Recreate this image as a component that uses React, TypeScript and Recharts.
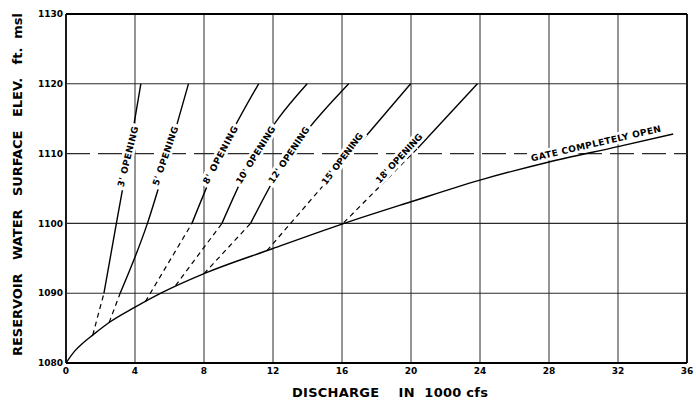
import React from 'react';
import { ComposedChart, Line, XAxis, YAxis, ReferenceLine } from 'recharts';

// axis ticks: discharge (1000 cfs) and elevation (ft msl)
const dischargeTicks = [0, 4, 8, 12, 16, 20, 24, 28, 32, 36];
const elevationTicks = [1080, 1090, 1100, 1110, 1120, 1130];

type Pt = [number, number]; // [discharge, elevation]

// free-flow rating, gate completely open
const gateOpen: Pt[] = [
  [0, 1080], [0.5, 1081.7], [1, 1082.9], [1.55, 1084], [2.5, 1085.8], [4, 1088],
  [5.5, 1090], [8, 1092.8], [12, 1096.4], [16, 1099.9], [20, 1103.1],
  [24, 1106.2], [28, 1108.8], [32, 1111], [35.2, 1112.8],
];

// partial openings: dashed transition leg off the free-flow curve, then the solid rating
const opening3Dashed: Pt[] = [[1.55, 1084], [2.2, 1090]];
const opening3Solid: Pt[] = [[2.2, 1090], [2.92, 1100], [3.65, 1110], [4.34, 1120]];
const opening5Dashed: Pt[] = [[2.5, 1085.8], [3.14, 1090]];
const opening5Solid: Pt[] = [[3.14, 1090], [4.72, 1100], [5.95, 1110], [7.1, 1120]];
const opening8Dashed: Pt[] = [[4.6, 1088.8], [7.3, 1100]];
const opening8Solid: Pt[] = [[7.3, 1100], [9.0, 1110], [11.17, 1120]];
const opening10Dashed: Pt[] = [[6.35, 1091.1], [9.04, 1100]];
const opening10Solid: Pt[] = [[9.04, 1100], [10.95, 1110], [12.3, 1115], [13.98, 1120]];
const opening12Dashed: Pt[] = [[8.0, 1092.8], [10.7, 1100]];
const opening12Solid: Pt[] = [[10.7, 1100], [12.95, 1110], [14.17, 1113.9], [16.39, 1120]];
const opening15Dashed: Pt[] = [[11.65, 1096.1], [16.8, 1110.8]];
const opening15Solid: Pt[] = [[16.8, 1110.8], [19.98, 1120]];
const opening18Dashed: Pt[] = [[16.1, 1100.1], [20.4, 1110.8]];
const opening18Solid: Pt[] = [[20.4, 1110.8], [23.85, 1120]];

// curve captions and where they sit (discharge, elevation)
const captionTexts = ["3' OPENING", "5' OPENING", "8' OPENING", "10' OPENING", "12' OPENING", "15' OPENING", "18' OPENING", 'GATE COMPLETELY OPEN'];
const captionQ = [3.58, 5.75, 8.94, 10.98, 12.91, 16.01, 19.3, 30.72];
const captionElev = [1109.56, 1109.66, 1109.8, 1109.8, 1109.8, 1109.27, 1109.33, 1111.48];

// caption rotation and fitted length, px
const captionStyle = [
  { angle: -76, len: 62 },
  { angle: -71, len: 62 },
  { angle: -62, len: 64 },
  { angle: -58, len: 66 },
  { angle: -56, len: 66 },
  { angle: -53, len: 62 },
  { angle: -47, len: 64 },
  { angle: -13, len: 133 },
];

const dashedLegs = [opening3Dashed, opening5Dashed, opening8Dashed, opening10Dashed, opening12Dashed, opening15Dashed, opening18Dashed];
const solidLegs = [opening3Solid, opening5Solid, opening8Solid, opening10Solid, opening12Solid, opening15Solid, opening18Solid];

const rows = (pts: Pt[]) => pts.map(([q, elev]) => ({ q, elev }));
const captionRows = captionTexts.map((text, i) => ({ q: captionQ[i], elev: captionElev[i], text }));

const FONT = '"DejaVu Sans", sans-serif';

// caption laid along its curve, on a white patch that breaks the lines under it
const Caption = (props: any) => {
  const i = props.index;
  if (i == null || !captionStyle[i]) return null;
  const cx = props.viewBox?.x ?? props.x;
  const cy = props.viewBox?.y ?? props.y;
  if (cx == null || cy == null) return null;
  const { angle, len } = captionStyle[i];
  return (
    <g transform={`translate(${cx},${cy}) rotate(${angle})`}>
      <rect x={-len / 2 - 3} y={-6} width={len + 6} height={12} fill="#fff" />
      <text
        x={-len / 2}
        y={0}
        dy="0.36em"
        fontSize={9}
        fontWeight="bold"
        fontFamily={FONT}
        fill="#000"
        textLength={len}
        lengthAdjust="spacing"
      >
        {captionTexts[i]}
      </text>
    </g>
  );
};

const YTitle = (props: any) => {
  const vb = props.viewBox || { x: 6, y: 14, width: 60, height: 349 };
  const cx = vb.x + 11;
  const cy = vb.y + vb.height / 2 - 4;
  return (
    <text
      x={cx}
      y={cy}
      transform={`rotate(-90, ${cx}, ${cy})`}
      textAnchor="middle"
      dy="0.36em"
      fontSize={13}
      fontWeight="bold"
      fontFamily={FONT}
      fill="#000"
      textLength={343}
      lengthAdjust="spacing"
      style={{ whiteSpace: 'pre' }}
    >
      {'RESERVOIR   WATER   SURFACE   ELEV.   ft.  msl'}
    </text>
  );
};

const XTitle = (props: any) => {
  const vb = props.viewBox || { x: 66, y: 363, width: 621, height: 20 };
  return (
    <text
      x={vb.x + 226}
      y={vb.y + 33.5}
      fontSize={13}
      fontWeight="bold"
      fontFamily={FONT}
      fill="#000"
      textLength={196}
      lengthAdjust="spacing"
      style={{ whiteSpace: 'pre' }}
    >
      {'DISCHARGE    IN  1000 cfs'}
    </text>
  );
};

const tickStyle = { fontSize: 9, fontWeight: 'bold', fill: '#000', fontFamily: FONT };

export default function App() {
  return (
    <div style={{ position: 'absolute', left: 0, top: 0, width: 696, height: 400, background: '#fff' }}>
      <ComposedChart width={696} height={400} margin={{ top: 14, right: 9, bottom: 17, left: 6 }}>
        <XAxis
          type="number"
          dataKey="q"
          domain={[0, 36]}
          ticks={dischargeTicks}
          allowDataOverflow
          axisLine={false}
          tickLine={false}
          tickSize={0}
          tickMargin={5}
          height={20}
          tick={tickStyle}
          label={{ content: XTitle }}
        />
        <YAxis
          type="number"
          dataKey="elev"
          domain={[1080, 1130]}
          ticks={elevationTicks}
          allowDataOverflow
          axisLine={false}
          tickLine={false}
          tickSize={0}
          tickMargin={3}
          width={60}
          tick={tickStyle}
          label={{ content: YTitle }}
        />

        {/* grid: vertical every 4, horizontal every 10, heavier frame */}
        {dischargeTicks.map((v) => {
          const edge = v === 0 || v === 36;
          return (
            <ReferenceLine key={`vx${v}`} x={v} zIndex={-100} stroke={edge ? '#000' : '#2a2a2a'} strokeWidth={edge ? 1.8 : 1} />
          );
        })}
        {elevationTicks.map((v) => {
          const edge = v === 1080 || v === 1130;
          return (
            <ReferenceLine
              key={`hy${v}`}
              y={v}
              zIndex={-100}
              stroke={edge ? '#000' : '#2a2a2a'}
              strokeWidth={edge ? 1.8 : 1.1}
              strokeDasharray={v === 1110 ? '24 8' : undefined}
            />
          );
        })}

        <Line
          data={rows(gateOpen)}
          dataKey="elev"
          type="monotone"
          stroke="#000"
          strokeWidth={1.4}
          dot={false}
          activeDot={false}
          isAnimationActive={false}
        />
        {dashedLegs.map((leg, i) => (
          <Line
            key={`d${i}`}
            data={rows(leg)}
            dataKey="elev"
            type="linear"
            stroke="#000"
            strokeWidth={1.2}
            strokeDasharray="5 4"
            dot={false}
            activeDot={false}
            isAnimationActive={false}
          />
        ))}
        {solidLegs.map((leg, i) => (
          <Line
            key={`s${i}`}
            data={rows(leg)}
            dataKey="elev"
            type="monotone"
            stroke="#000"
            strokeWidth={1.4}
            dot={false}
            activeDot={false}
            isAnimationActive={false}
          />
        ))}

        {/* captions ride on an unstroked series drawn last so they sit above the curves */}
        <Line
          data={captionRows}
          dataKey="elev"
          type="linear"
          stroke="none"
          zIndex={3000}
          dot={false}
          activeDot={false}
          isAnimationActive={false}
          label={(p: any) => <Caption {...p} />}
        />
      </ComposedChart>
    </div>
  );
}
